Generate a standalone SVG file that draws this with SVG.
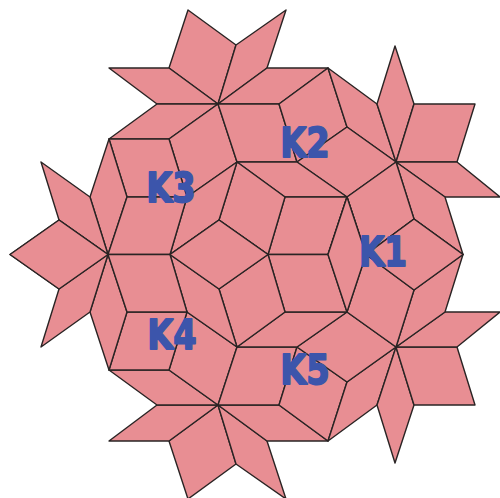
<svg xmlns="http://www.w3.org/2000/svg" xmlns:xlink="http://www.w3.org/1999/xlink" width="500" height="498" viewBox="0 0 500 498">
<style>
polygon{fill:#e88e93;stroke:#2a2424;stroke-width:1.4;stroke-linejoin:round}
text{font-family:"DejaVu Sans",sans-serif;font-weight:700;font-size:41px;fill:#3c55ab;stroke:#3c55ab;stroke-width:1.8;stroke-linejoin:round;text-anchor:middle}
</style>
<rect width="500" height="498" fill="#fff"/>
<defs>
<g id="half">
<polygon points="188,10 236,45 218,104 169,68"/>
<polygon points="236,45 286,10 267,68 218,104"/>
<polygon points="218,104 267,68 328,68 279,104"/>
<polygon points="169,68 109,68 157,104 218,104"/>
<polygon points="157,104 218,104 169,139 109,139"/>
<polygon points="218,104 237,162 187,197 169,139"/>
<polygon points="218,104 279,104 297,162 237,162"/>
<polygon points="279,104 328,68 347,127 297,162"/>
<polygon points="328,68 377,104 396,162 347,127"/>
<polygon points="347,127 396,162 347,197 297,162"/>
<polygon points="237,162 297,162 347,197 285,197"/>
<polygon points="377,104 395,46 414,104 396,162"/>
<polygon points="414,104 475,104 457,162 396,162"/>
<polygon points="396,162 457,162 500,197 445,197"/>
<polygon points="396,162 445,197 463,254.5 414,219"/>
<polygon points="347,197 396,162 414,219 366,254.5"/>
<polygon points="285,197 347,197 328,254.5 268,254.5"/>
<polygon points="237,162 285,197 268,254.5 219,220"/>
<polygon points="187,197 237,162 219,220 170,254.5"/>
<polygon points="169,139 187,197 127,197 109,139"/>
<polygon points="109,139 127,197 108,254.5 90,197"/>
<polygon points="90,197 108,254.5 59,220 41,162"/>
<polygon points="127,197 187,197 170,254.5 108,254.5"/>
<polygon points="59,220 108,254.5 59,289 10,254.5"/>
<polygon points="170,254.5 219,220 268,254.5 219,289"/>
<polygon points="414,219 463,254.5 414,290 366,254.5"/>
<polygon points="347,197 366,254.5 347,312 328,254.5"/>
</g>
</defs>
<g id="tiling">
<use href="#half"/>
<use href="#half" transform="matrix(1 0 0 -1 0 509)"/>
</g>
<g id="labels">
<text transform="translate(383 266) scale(.8 1)">K1</text>
<text transform="translate(305 157) scale(.82 1)">K2</text>
<text transform="translate(171 202) scale(.82 1)">K3</text>
<text transform="translate(172 349) scale(.82 1)">K4</text>
<text transform="translate(305 384) scale(.82 1)">K5</text>
</g>
</svg>
